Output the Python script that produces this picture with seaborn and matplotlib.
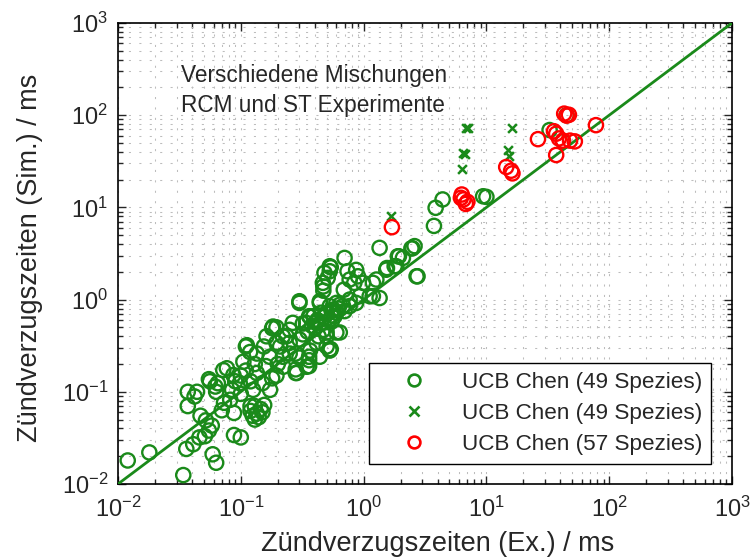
import numpy as np
import pandas as pd
import seaborn as sns
import matplotlib.pyplot as plt
from matplotlib.lines import Line2D

# Zuendverzugszeiten in ms (Ex. -> x, Sim. -> y)
green_circ_x = [0.012, 0.018, 0.034, 0.036, 0.041, 0.046, 0.051, 0.055, 0.058, 0.059, 0.063,
                0.088, 0.10, 0.047, 0.052, 0.037, 0.042, 0.037, 0.056, 0.065, 0.070, 0.088, 0.073,
                0.12, 0.125, 0.13, 0.135, 0.14, 0.145, 0.15, 0.155, 0.13, 0.12,
                0.055, 0.062, 0.072, 0.077, 0.087, 0.105, 0.112, 0.119, 0.135, 0.15, 0.173, 0.195,
                0.222, 0.209, 0.236, 0.25, 0.285, 0.344, 0.30, 0.366, 0.414, 0.53, 0.50, 0.32,
                0.366, 0.30, 0.44, 0.47, 0.57, 0.60, 0.195, 0.162, 0.098, 0.082, 0.063, 0.126, 0.044,
                0.48, 0.466, 0.30, 0.44, 0.34, 0.36, 0.41, 0.47, 0.53, 0.60, 0.68, 0.77, 0.87,
                0.99, 1.19, 1.19, 0.183, 0.22, 0.25, 0.265, 0.195, 0.154, 0.135, 0.172, 0.22,
                0.28, 0.36, 0.44, 0.53, 0.36, 0.28, 0.53, 0.60, 0.39, 0.50, 0.64, 0.30, 0.25,
                0.54, 0.53, 0.51, 0.47, 0.70, 0.74, 0.69, 0.77, 0.90, 0.84, 1.35, 1.27, 1.53,
                1.79, 1.9, 2.09, 2.5, 2.7, 1.12, 1.35, 0.93, 0.77, 0.5,
                4.4, 3.86, 3.74, 2.6, 2.45, 1.94, 1.85, 1.55, 2.75, 9.4, 10.0, 32.7, 45, 42,
                0.35, 0.40, 0.42, 0.45, 0.48, 0.50, 0.55, 0.45, 0.38, 0.55, 0.62, 0.70, 0.32, 0.43, 0.58,
                0.09, 0.10, 0.11, 0.12, 0.16, 0.18, 0.20, 0.085, 0.10, 0.13,
                0.87, 0.64, 0.53, 0.54, 0.36, 0.28, 0.18, 0.11]
green_circ_y = [0.018, 0.022, 0.0125, 0.024, 0.027, 0.032, 0.033, 0.038, 0.043, 0.021, 0.017,
                0.034, 0.032, 0.055, 0.049, 0.10, 0.089, 0.070, 0.13, 0.124, 0.063, 0.059, 0.076,
                0.062, 0.055, 0.05, 0.058, 0.053, 0.065, 0.06, 0.072, 0.07, 0.07,
                0.137, 0.114, 0.172, 0.18, 0.152, 0.212, 0.32, 0.27, 0.16, 0.124, 0.105, 0.15,
                0.187, 0.31, 0.40, 0.26, 0.16, 0.187, 0.235, 0.28, 0.34, 0.28, 0.40, 0.55,
                0.65, 0.96, 0.96, 1.25, 0.78, 0.44, 0.5, 0.40, 0.124, 0.082, 0.10, 0.105, 0.10,
                1.95, 1.52, 0.92, 0.92, 0.56, 0.66, 0.56, 0.47, 0.61, 0.72, 0.85, 0.85, 0.92,
                1.52, 1.52, 1.09, 0.51, 0.40, 0.47, 0.56, 0.34, 0.31, 0.26, 0.24, 0.24,
                0.26, 0.24, 0.24, 0.29, 0.19, 0.175, 0.85, 0.92, 0.66, 0.44, 0.44, 0.37, 0.34,
                2.24, 2.03, 1.72, 1.39, 2.83, 2.03, 1.28, 1.65, 1.79, 1.52, 3.64, 1.65, 2.11,
                2.3, 2.95, 2.83, 3.6, 1.79, 1.09, 1.04, 1.09, 1.0, 0.31,
                12.2, 9.9, 6.3, 3.8, 3.6, 2.95, 2.3, 2.2, 1.79, 13.2, 13.0, 69, 100, 52,
                0.45, 0.50, 0.60, 0.55, 0.65, 0.70, 0.75, 0.72, 0.52, 0.58, 0.80, 0.75, 0.42, 0.40, 0.66,
                0.13, 0.15, 0.17, 0.13, 0.19, 0.14, 0.2, 0.105, 0.095, 0.20,
                2.1, 0.88, 2.3, 0.29, 0.22, 0.16, 0.49, 0.31]

green_x_x = [6.8, 7.1, 6.5, 6.3, 1.68, 16.1, 15.1, 15.4, 6.7]
green_x_y = [72, 72, 39, 26, 8.1, 72, 41.6, 35.7, 38]

red_x = [1.7, 6.3, 6.5, 6.8, 6.2, 7.0, 14.5, 15.9, 16.3, 26.3, 37, 35.5, 37, 39, 42, 48,
         52.5, 43, 45, 47, 78]
red_y = [6.1, 13.8, 12.2, 10.9, 12.7, 11.5, 27.4, 25, 23.4, 55, 37, 67, 63, 56, 53, 53,
         52, 104, 99, 101, 78]

labels = ['UCB Chen (49 Spezies)', 'UCB Chen (49 Spezies)', 'UCB Chen (57 Spezies)']
diag = [1e-2, 1e3]

GREEN = '#1a8a1a'
RED = '#ff0000'

sns.set_style('ticks')
plt.rcParams['font.family'] = ['Liberation Sans', 'DejaVu Sans']
plt.rcParams['mathtext.default'] = 'regular'

fig = plt.figure(figsize=(7.51, 5.59), dpi=100)
ax = fig.add_axes([118 / 751, 1 - 484 / 559, 614 / 751, 461 / 559])

df_gc = pd.DataFrame({'ex': green_circ_x, 'sim': green_circ_y})
df_gx = pd.DataFrame({'ex': green_x_x, 'sim': green_x_y})
df_r = pd.DataFrame({'ex': red_x, 'sim': red_y})

sns.lineplot(x=diag, y=diag, color=GREEN, linewidth=2, ax=ax, zorder=3)
sns.scatterplot(data=df_gc, x='ex', y='sim', marker='o', s=105, facecolors='none',
                edgecolor=GREEN, linewidth=1.7, ax=ax, zorder=4)
sns.scatterplot(data=df_gx, x='ex', y='sim', marker='x', s=40, color=GREEN,
                linewidth=1.8, ax=ax, zorder=4)
sns.scatterplot(data=df_r, x='ex', y='sim', marker='o', s=105, facecolors='none',
                edgecolor=RED, linewidth=1.7, ax=ax, zorder=5)

ax.set_xscale('log')
ax.set_yscale('log')
ax.set_xlim(1e-2, 1e3)
ax.set_ylim(1e-2, 1e3)
ax.set_xticks([1e-2, 1e-1, 1e0, 1e1, 1e2, 1e3])
ax.set_yticks([1e-2, 1e-1, 1e0, 1e1, 1e2, 1e3])

ax.grid(True, which='both', linestyle=(0, (2, 8)), color='#bdbdbd', linewidth=0.75)
ax.set_axisbelow(True)
ax.tick_params(which='both', direction='in', top=True, right=True, width=1, labelsize=17)
ax.tick_params(which='major', length=6)
ax.tick_params(which='minor', length=3.5)
ax.tick_params(axis='x', pad=9)
ax.tick_params(axis='y', pad=7)
for sp in ax.spines.values():
    sp.set_linewidth(1.2)
    sp.set_color('black')

ax.set_xlabel('Zündverzugszeiten (Ex.) / ms', fontsize=19.5, labelpad=7)
ax.set_ylabel('Zündverzugszeiten (Sim.) / ms', fontsize=19.5, labelpad=13.5)
ax.xaxis.label.set_x(0.52)
ax.yaxis.label.set_y(0.49)

ax.text(0.103, 0.912, 'Verschiedene Mischungen\nRCM und ST Experimente',
        transform=ax.transAxes, fontsize=16.3, va='top', ha='left', linespacing=1.4)

handles = [
    Line2D([], [], linestyle='none', marker='o', markersize=8.5, markerfacecolor='none',
           markeredgecolor=GREEN, markeredgewidth=1.9),
    Line2D([], [], linestyle='none', marker='x', markersize=6.5, color=GREEN,
           markeredgewidth=1.9),
    Line2D([], [], linestyle='none', marker='o', markersize=8.5, markerfacecolor='none',
           markeredgecolor=RED, markeredgewidth=1.9),
]
leg = ax.legend(handles, labels, loc='lower right', bbox_to_anchor=(0.966, 0.043),
                fontsize=16.2, frameon=True, fancybox=False, handlelength=3.2,
                handletextpad=0.5, labelspacing=0.45, borderpad=0.4, borderaxespad=0)
leg.get_frame().set_edgecolor('black')
leg.get_frame().set_linewidth(1.0)
leg.get_frame().set_alpha(1)

fig.savefig('out.png', dpi=100)
